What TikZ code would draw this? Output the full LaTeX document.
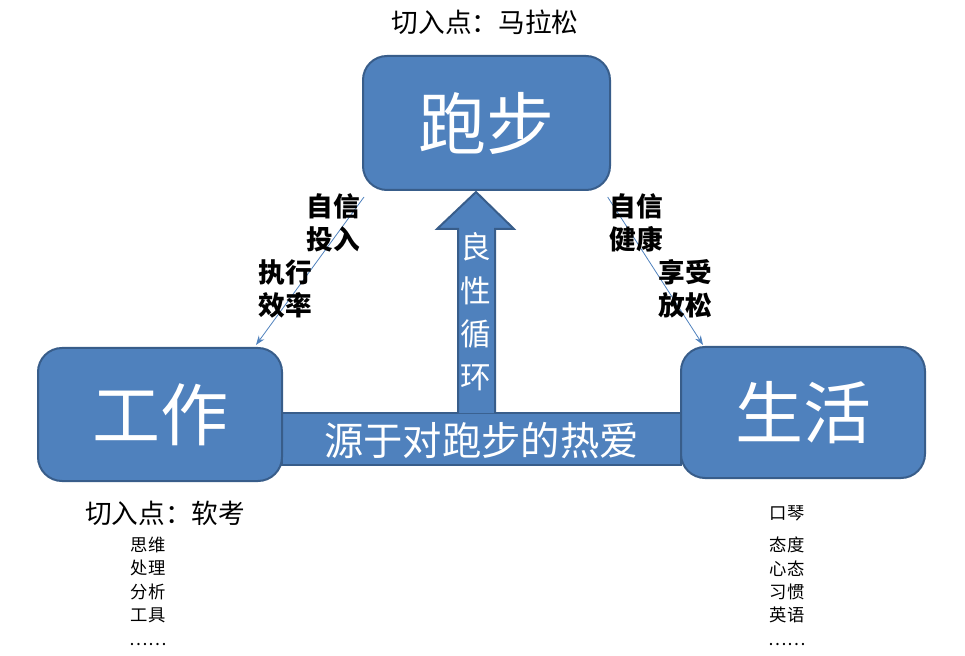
\documentclass[tikz,border=0pt]{standalone}
\usepackage{fontspec}
\setmainfont{Noto Sans CJK SC}
\usetikzlibrary{arrows.meta}

\definecolor{boxblue}{RGB}{79,129,189}
\definecolor{boxline}{RGB}{56,93,138}

\tikzset{every picture/.style={line width=0.75pt}}
\tikzset{
  bigbox/.style={draw=boxline, line width=1.5pt, fill=boxblue, rounded corners=18pt, text=white, font=\fontsize{51}{54}\selectfont},
  barbox/.style={draw=boxline, line width=1.5pt, fill=boxblue, text=white},
  thinarrow/.style={draw=boxblue, line width=0.6pt, -{Stealth[length=7pt,width=5pt]}},
  hint/.style={font=\bfseries\fontsize{20}{25}\selectfont, align=left},
  caption/.style={font=\fontsize{20}{22}\selectfont},
  listtext/.style={font=\fontsize{13}{17.6}\selectfont, align=center}
}

\begin{document}
\begin{tikzpicture}[x=0.75pt,y=0.75pt,yscale=-1,xscale=1]
        \useasboundingbox (0,0) rectangle (965,656);

        %Shape: Bar [id:love]
        \node[barbox, minimum width=299.25pt, minimum height=39pt, inner sep=0pt] (love) at (481.5,439) {};
        \node (lovetext) at (481.5,441) [text=white, font=\fontsize{29.5}{32}\selectfont] {源于对跑步的热爱};

        %Shape: Up Arrow [id:cycle]
        \draw[draw=boxline, line width=1.5pt, fill=boxblue] (458,413) -- (458,229) -- (437,229) -- (476,192) -- (514,229) -- (495,229) -- (495,413) ;
        \node (cycletext) at (476,312) [text=white, align=center, font=\fontsize{23}{32.5}\selectfont] {良\\性\\循\\环};

        %Shape: Rounded Rectangle [id:run]
        \node[bigbox, minimum width=185.25pt, minimum height=100.5pt] (run) at (486.5,123) {跑步};
        %Shape: Rounded Rectangle [id:work]
        \node[bigbox, minimum width=183pt, minimum height=99.75pt] (work) at (160,414.5) {工作};
        %Shape: Rounded Rectangle [id:life]
        \node[bigbox, minimum width=183pt, minimum height=98.25pt] (life) at (803,412.5) {生活};

        %Straight Lines [id:runwork]
        \coordinate (workin) at (256,345);
        \coordinate (lifein) at (703,345);
        \draw[thinarrow] ([xshift=1.5pt,yshift=4.5pt]run.south west) -- (workin) ;
        %Straight Lines [id:runlife]
        \draw[thinarrow] ([xshift=-2.5pt,yshift=4.5pt]run.south east) -- (lifein) ;

        % Text Node
        \node[hint] (workhinta) at (333,223) {自信\\投入};
        % Text Node
        \node[hint] (workhintb) at (285,289) {执行\\效率};
        % Text Node
        \node[hint] (lifehinta) at (636,223) {自信\\健康};
        % Text Node
        \node[hint] (lifehintb) at (685,289) {享受\\放松};

        % Text Node
        \node[caption] (runcap) at (485,22) {切入点：马拉松};
        % Text Node
        \node[caption] (workcap) at (165,513) {切入点：软考};
        % Text Node
        \node[listtext, anchor=north] (worklist) at (148,532) {思维\\处理\\分析\\工具\\……};
        % Text Node
        \node[listtext] (lifecap) at (787,513) {口琴};
        % Text Node
        \node[listtext, anchor=north] (lifelist) at (787,532) {态度\\心态\\习惯\\英语\\……};
\end{tikzpicture}
\end{document}
